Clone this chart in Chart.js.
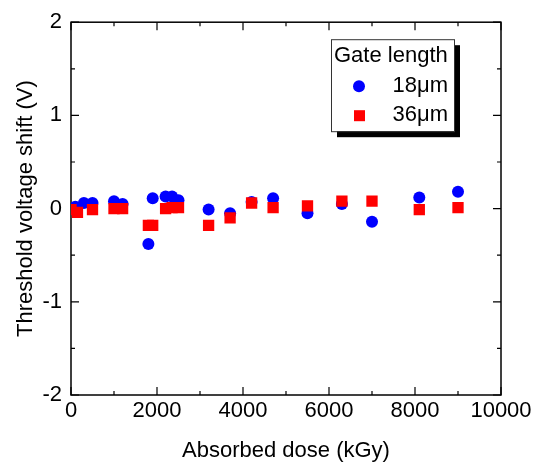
<!DOCTYPE html>
<html lang="en">
<head>
    <meta charset="UTF-8">
    <title>Threshold voltage shift</title>
    <script src="https://cdn.jsdelivr.net/npm/chart.js"></script>
    <style>
        html, body { margin: 0; padding: 0; background: #fff; }
        #wrap { width: 539px; height: 464px; position: relative; }
    </style>
</head>
<body>
    <div id="wrap"><canvas id="vthChart"></canvas></div>
    <script>
        // 18um gate length
        const dose18 = [0, 100, 300, 500, 1000, 1200, 1800, 1900, 2200, 2350, 2500, 3200, 3700, 4200, 4700, 5500, 6300, 7000, 8100, 9000];
        const shift18 = [0, 0.02, 0.06, 0.06, 0.08, 0.05, -0.38, 0.11, 0.13, 0.13, 0.09, -0.01, -0.05, 0.07, 0.11, -0.05, 0.05, -0.14, 0.12, 0.18];
        // 36um gate length
        const dose36 = [0, 150, 500, 1000, 1200, 1800, 1900, 2200, 2350, 2500, 3200, 3700, 4200, 4700, 5500, 6300, 7000, 8100, 9000];
        const shift36 = [-0.01, -0.04, -0.01, 0, 0, -0.18, -0.18, 0, 0.01, 0.01, -0.18, -0.1, 0.06, 0.01, 0.03, 0.08, 0.08, -0.01, 0.01];

        const seriesLabels = ['18\u03bcm', '36\u03bcm'];
        const legendTitle = 'Gate length';
        const xTicks = [0, 2000, 4000, 6000, 8000, 10000];
        const yTicks = [-2, -1, 0, 1, 2];

        const FONT = "'Liberation Sans', Arial, sans-serif";

        const pts = (xs, ys) => xs.map((x, i) => ({ x: x, y: ys[i] }));

        // frame with inward ticks on all four sides
        const framePlugin = {
            id: 'frame',
            beforeDatasetsDraw(chart) {
                const { ctx, chartArea: a, scales } = chart;
                ctx.save();
                ctx.strokeStyle = '#000';
                ctx.lineWidth = 1.5;
                ctx.strokeRect(a.left, a.top, a.right - a.left, a.bottom - a.top);
                ctx.lineWidth = 1.2;
                ctx.beginPath();
                for (let v = 0; v <= 10000; v += 1000) {
                    const px = scales.x.getPixelForValue(v);
                    const len = v % 2000 === 0 ? 8 : 4;
                    ctx.moveTo(px, a.bottom); ctx.lineTo(px, a.bottom - len);
                    ctx.moveTo(px, a.top); ctx.lineTo(px, a.top + len);
                }
                for (let v = -2; v <= 2; v += 0.5) {
                    const py = scales.y.getPixelForValue(v);
                    const len = Number.isInteger(v) ? 8 : 4;
                    ctx.moveTo(a.left, py); ctx.lineTo(a.left + len, py);
                    ctx.moveTo(a.right, py); ctx.lineTo(a.right - len, py);
                }
                ctx.stroke();
                ctx.restore();
            }
        };

        // boxed legend with drop shadow, inside the plot
        const legendPlugin = {
            id: 'boxLegend',
            afterDraw(chart) {
                const { ctx, chartArea: a } = chart;
                const right = a.right - 47, top = a.top + 17;
                const w = 123, h = 92, left = right - w;
                ctx.save();
                ctx.fillStyle = '#000';
                ctx.fillRect(left + 6, top + 6, w, h);
                ctx.fillStyle = '#fff';
                ctx.fillRect(left, top, w, h);
                ctx.strokeStyle = '#333';
                ctx.lineWidth = 1;
                ctx.strokeRect(left + 0.5, top + 0.5, w, h);

                ctx.fillStyle = '#000';
                ctx.font = '22px ' + FONT;
                ctx.textBaseline = 'middle';
                ctx.textAlign = 'left';
                ctx.fillText(legendTitle, left + 3, top + 17);
                ctx.textAlign = 'right';
                ctx.fillText(seriesLabels[0], right - 6, top + 47);
                ctx.fillText(seriesLabels[1], right - 6, top + 76);

                ctx.fillStyle = '#0000ff';
                ctx.beginPath();
                ctx.arc(left + 28, top + 47, 6, 0, Math.PI * 2);
                ctx.fill();
                ctx.fillStyle = '#ff0000';
                ctx.fillRect(left + 23, top + 71, 11, 11);
                ctx.restore();
            }
        };

        const ctx = document.getElementById('vthChart').getContext('2d');
        new Chart(ctx, {
            type: 'scatter',
            data: {
                datasets: [{
                    label: seriesLabels[0],
                    data: pts(dose18, shift18),
                    pointStyle: 'circle',
                    pointRadius: 6,
                    backgroundColor: '#0000ff',
                    borderWidth: 0,
                    order: 2
                }, {
                    label: seriesLabels[1],
                    data: pts(dose36, shift36),
                    pointStyle: 'rect',
                    pointRadius: 8,
                    backgroundColor: '#ff0000',
                    borderWidth: 0,
                    order: 1
                }]
            },
            options: {
                responsive: true,
                maintainAspectRatio: false,
                animation: false,
                layout: { padding: { top: 19, right: 38, left: 0, bottom: 0 } },
                plugins: {
                    legend: { display: false },
                    tooltip: { enabled: false }
                },
                scales: {
                    x: {
                        type: 'linear',
                        min: 0, max: 10000,
                        afterFit: s => { s.height = 69; },
                        afterBuildTicks: s => { s.ticks = xTicks.map(v => ({ value: v })); },
                        grid: { display: false, drawTicks: false },
                        border: { display: false },
                        ticks: {
                            color: '#000', padding: 3, maxRotation: 0,
                            font: { family: FONT, size: 22 },
                            callback: v => String(v)
                        },
                        title: {
                            display: true, text: 'Absorbed dose (kGy)', color: '#000',
                            font: { family: FONT, size: 22 }, padding: { top: 0, bottom: 0 }
                        }
                    },
                    y: {
                        type: 'linear',
                        min: -2, max: 2,
                        afterFit: s => { s.width = 71; },
                        afterBuildTicks: s => { s.ticks = yTicks.map(v => ({ value: v })); },
                        grid: { display: false, drawTicks: false },
                        border: { display: false },
                        ticks: {
                            color: '#000', padding: 9,
                            font: { family: FONT, size: 22 },
                            callback: v => String(v)
                        },
                        title: {
                            display: true, text: 'Threshold voltage shift (V)', color: '#000',
                            font: { family: FONT, size: 22 }, padding: { top: 13, bottom: 0 }
                        }
                    }
                }
            },
            plugins: [framePlugin, legendPlugin]
        });
    </script>
</body>
</html>
